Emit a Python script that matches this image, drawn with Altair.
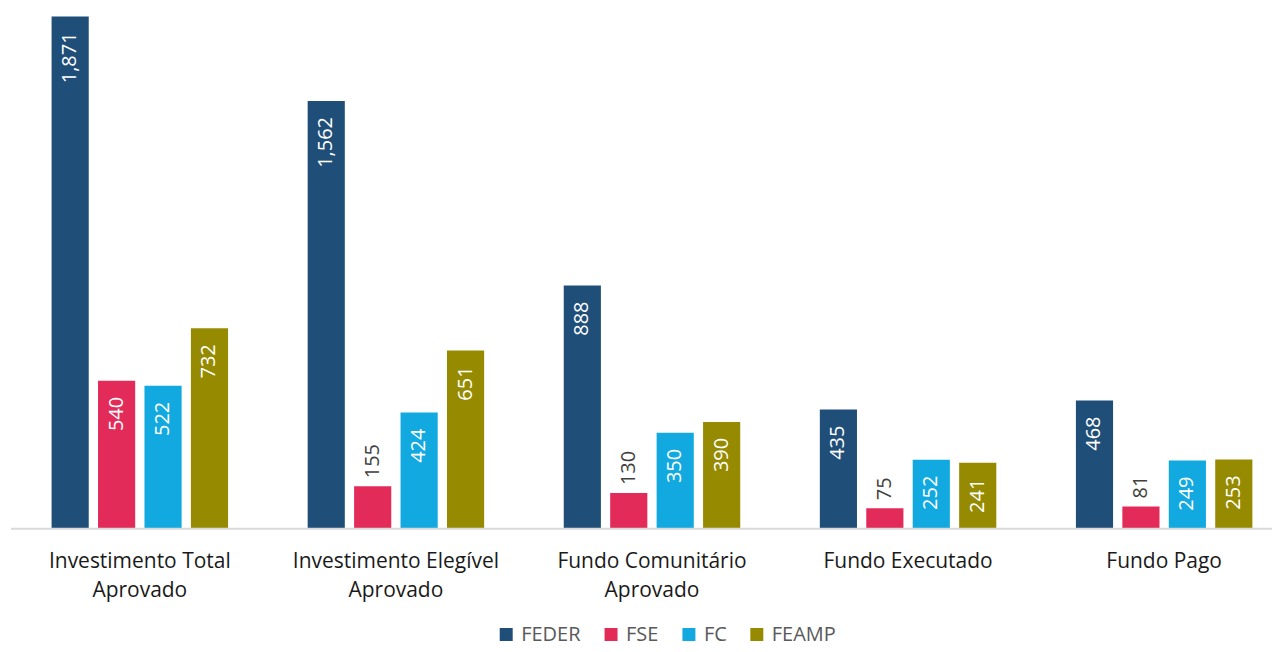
import altair as alt
import pandas as pd

categories = ["Investimento Total\nAprovado", "Investimento Elegível\nAprovado",
              "Fundo Comunitário\nAprovado", "Fundo Executado", "Fundo Pago"]
series = ["FEDER", "FSE", "FC", "FEAMP"]
feder = [1871, 1562, 888, 435, 468]
fse = [540, 155, 130, 75, 81]
fc = [522, 424, 350, 252, 249]
feamp = [732, 651, 390, 241, 253]
colors = ["#1F4E79", "#E32B5A", "#12A9E0", "#968B00"]

rows = []
for s, vals in zip(series, [feder, fse, fc, feamp]):
    for c, v in zip(categories, vals):
        rows.append({"cat": c, "serie": s, "value": v, "inside": v >= 200})
df = pd.DataFrame(rows)

FONT = "Open Sans"
W, H = 1263, 521

x = alt.X("cat:N", sort=categories, title=None,
          scale=alt.Scale(range=[36, 1248], paddingInner=0.2746, paddingOuter=0),
          axis=alt.Axis(labelAngle=0, labelFontSize=21, labelColor="#1a1a1a",
                        labelFont=FONT, labelLineHeight=29, labelPadding=22,
                        labelLimit=0, labelExpr="split(datum.label, '\\n')",
                        ticks=False, domain=False))
xo = alt.XOffset("serie:N", sort=series,
                 scale=alt.Scale(paddingInner=0.2, paddingOuter=0.1))
y = alt.Y("value:Q", scale=alt.Scale(domain=[0, 1900], nice=False), axis=None)

base = alt.Chart(df)

bars = base.mark_bar().encode(
    x=x, xOffset=xo, y=y,
    color=alt.Color("serie:N", sort=series,
                    scale=alt.Scale(domain=series, range=colors),
                    legend=alt.Legend(title=None, orient="none", direction="horizontal",
                                      legendX=486, legendY=617, symbolType="square",
                                      symbolSize=169, symbolStrokeWidth=0,
                                      labelFontSize=20, labelFont=FONT,
                                      labelColor="#595959", labelOffset=5,
                                      columnPadding=20, padding=0)),
)

baseline = alt.Chart(pd.DataFrame({"v": [0]})).mark_rule(
    color="#d9d9d9", strokeWidth=2
).encode(x=alt.value(0), x2=alt.value(W), y=alt.value(H))

inside = base.transform_filter("datum.inside").mark_text(
    angle=270, align="right", baseline="middle", dx=-16,
    fontSize=20, font=FONT, color="white"
).encode(x=x, xOffset=xo, y=y, text=alt.Text("value:Q", format=",d"))

outside = base.transform_filter("!datum.inside").mark_text(
    angle=270, align="left", baseline="middle", dx=8,
    fontSize=20, font=FONT, color="#404040"
).encode(x=x, xOffset=xo, y=y, text=alt.Text("value:Q", format=",d"))

chart = alt.layer(bars, baseline, inside, outside).properties(
    width=W, height=H,
    padding={"left": 2, "right": 0, "top": 0, "bottom": 4}
).configure_view(stroke=None)

chart.save("out.html", embed_options={"renderer": "svg", "actions": False})
